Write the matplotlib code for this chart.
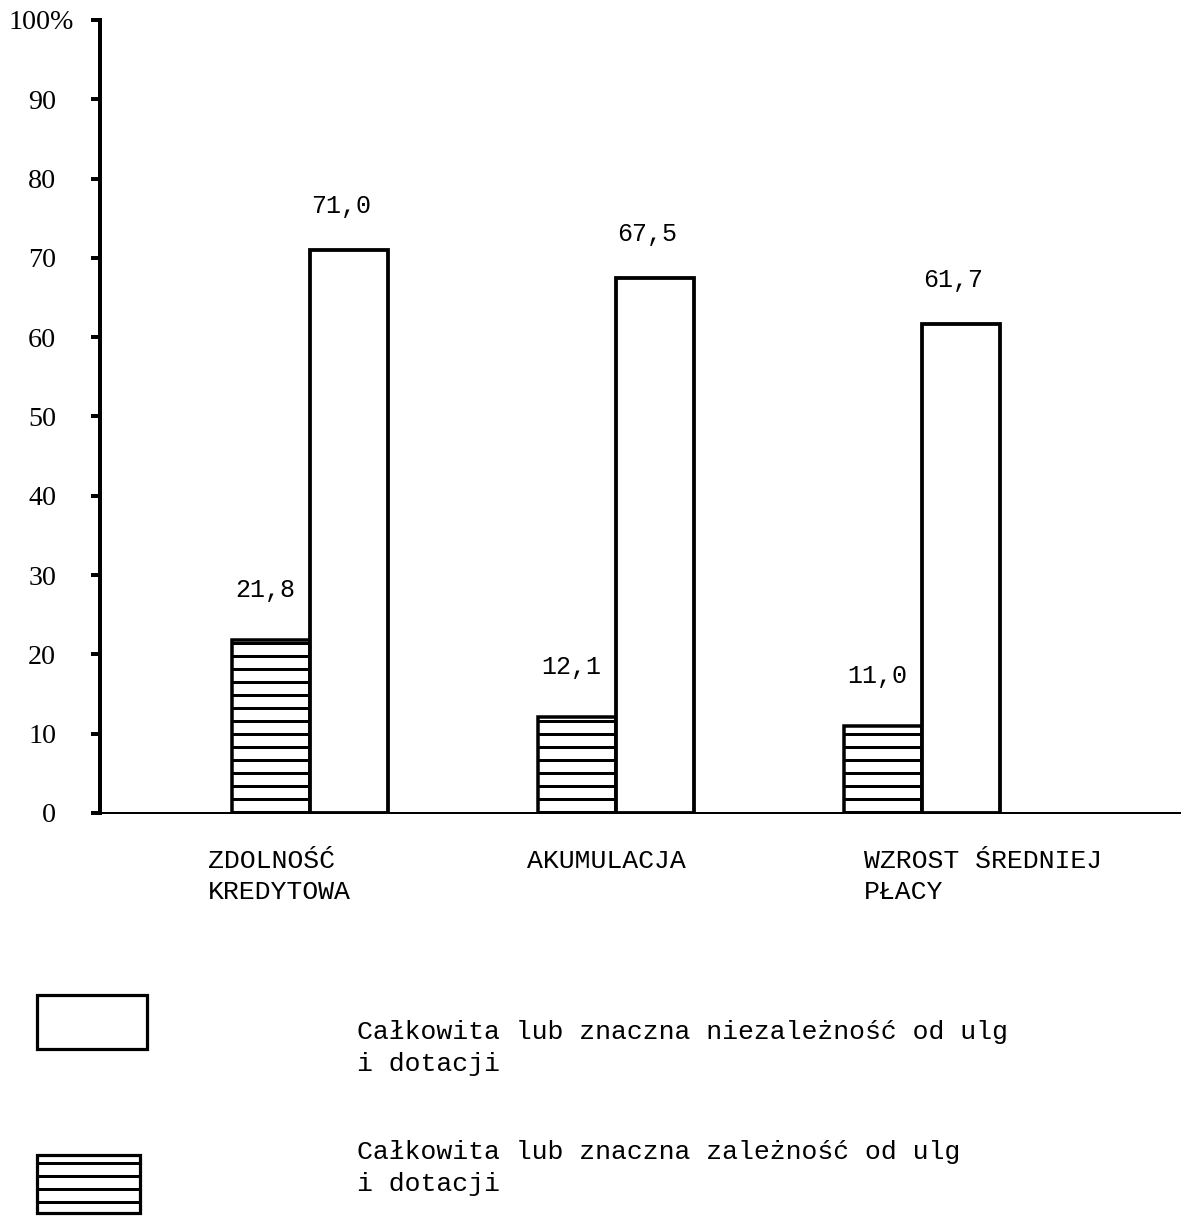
import matplotlib
matplotlib.use("Agg")
import matplotlib.pyplot as plt
from matplotlib.patches import Rectangle
from matplotlib.transforms import ScaledTranslation, blended_transform_factory
import numpy as np

# ---- data ----
categories = ["ZDOLNOŚĆ\nKREDYTOWA", "AKUMULACJA", "WZROST ŚREDNIEJ\nPŁACY"]
dependent = [21.8, 12.1, 11.0]      # hatched bars
independent = [71.0, 67.5, 61.7]    # white bars
dep_labels = ["21,8", "12,1", "11,0"]
ind_labels = ["71,0", "67,5", "61,7"]
yticks = [0, 10, 20, 30, 40, 50, 60, 70, 80, 90, 100]
ytick_labels = ["0", "10", "20", "30", "40", "50", "60", "70", "80", "90", "100%"]
legend_texts = ["Całkowita lub znaczna niezależność od ulg\ni dotacji",
                "Całkowita lub znaczna zależność od ulg\ni dotacji"]

W, H = 1190, 1224
DPI = 78  # chosen so the hatch spacing matches the reference (~13 px)

def pt(px):
    """pixels -> points at the chosen dpi"""
    return px * 72.0 / DPI

plt.rcParams['hatch.linewidth'] = pt(3)
MONO = ["Liberation Mono", "DejaVu Sans Mono"]
SERIF = ["Liberation Serif", "DejaVu Serif"]

fig = plt.figure(figsize=(W / DPI, H / DPI), dpi=DPI)
fig.patch.set_facecolor("white")

def fx(x): return x / W
def fy(y): return 1 - y / H

ax = fig.add_axes([fx(100), fy(813), fx(1180) - fx(100), fy(20) - fy(813)])
pos = np.arange(len(categories))
w = 0.255
ax.set_xlim(-0.686, 2.843)
ax.set_ylim(0, 100)

ax.bar(pos - w / 2, dependent, w, facecolor="white", edgecolor="black",
       hatch="-", linewidth=pt(3.5), zorder=3)
ax.bar(pos + w / 2, independent, w, facecolor="white", edgecolor="black",
       linewidth=pt(3.8), zorder=3)

for x, v, s in zip(pos - w / 2, dependent, dep_labels):
    ax.annotate(s, (x, v), xytext=(pt(-6), pt(38)), textcoords="offset points",
                ha="center", va="bottom", fontsize=pt(25), family=MONO)
for x, v, s in zip(pos + w / 2, independent, ind_labels):
    ax.annotate(s, (x, v), xytext=(pt(-8), pt(32)), textcoords="offset points",
                ha="center", va="bottom", fontsize=pt(25), family=MONO)

for side in ("top", "right"):
    ax.spines[side].set_visible(False)
ax.spines["left"].set_linewidth(pt(4))
ax.spines["bottom"].set_linewidth(pt(2))
ax.set_xticks([])
ax.set_yticks(yticks)
ax.set_yticklabels(ytick_labels, family=SERIF, fontsize=pt(28))
ax.tick_params(axis="y", length=pt(9), width=pt(4), pad=pt(35))
for lab in ax.get_yticklabels():
    lab.set_ha("right")
    if lab.get_text().endswith("%"):
        lab.set_transform(lab.get_transform() + ScaledTranslation(18 / DPI, 0, fig.dpi_scale_trans))

# category labels
cat_offsets = [-0.333, -0.29, -0.19]
tr = blended_transform_factory(ax.transData, ax.transAxes)
for p, c, o in zip(pos, categories, cat_offsets):
    ax.text(p + o, -0.045, c, transform=tr, ha="left", va="top",
            fontsize=pt(26.5), family=MONO, linespacing=1.4)

# legend
r1 = Rectangle((fx(37), fy(1049)), fx(147) - fx(37), fy(995) - fy(1049),
               transform=fig.transFigure, facecolor="white", edgecolor="black", linewidth=pt(3.2))
r2 = Rectangle((fx(37), fy(1213)), fx(140) - fx(37), fy(1155) - fy(1213),
               transform=fig.transFigure, facecolor="white", edgecolor="black",
               hatch="-", linewidth=pt(3.2))
fig.patches.extend([r1, r2])
fig.text(fx(357), fy(1020), legend_texts[0], ha="left", va="top",
         fontsize=pt(26.5), family=MONO, linespacing=1.4)
fig.text(fx(357), fy(1140), legend_texts[1], ha="left", va="top",
         fontsize=pt(26.5), family=MONO, linespacing=1.4)

fig.savefig("out.png", dpi=DPI, facecolor="white")
